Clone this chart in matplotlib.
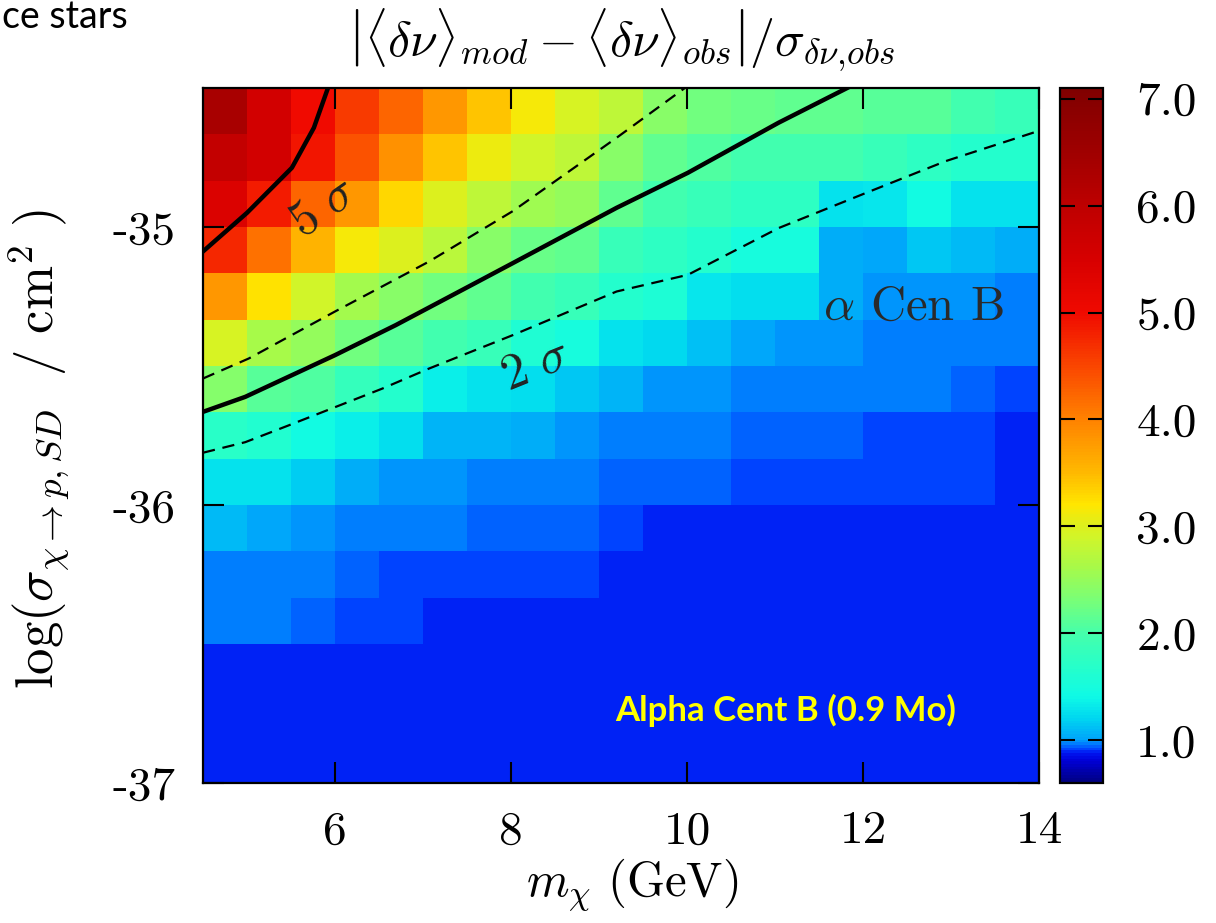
import numpy as np
import matplotlib
matplotlib.use("Agg")
import matplotlib.pyplot as plt
from matplotlib.colors import LinearSegmentedColormap, Normalize

plt.rcParams['font.family'] = 'serif'
plt.rcParams['font.serif'] = ['cmr10']
plt.rcParams['mathtext.fontset'] = 'cm'
plt.rcParams['axes.unicode_minus'] = False

# grid of the scan: WIMP mass (GeV) and log10 cross-section edges
mass_edges = [4.5, 5.0, 5.5, 6.0, 6.5, 7.0, 7.5, 8.0, 8.5, 9.0, 9.5,
              10.0, 10.5, 11.0, 11.5, 12.0, 12.5, 13.0, 13.5, 14.0]
logsig_edges = [-37.0, -36.5, -36.3333, -36.1667, -36.0, -35.8333, -35.6667,
                -35.5, -35.3333, -35.1667, -35.0, -34.8333, -34.6667, -34.5]

# |<dnu>_mod - <dnu>_obs| / sigma, rows listed from top (-34.5) to bottom (-37)
dev_rows = [
    [6.35, 5.6, 5.0, 4.6, 4.25, 3.8, 3.43, 3.15, 2.95, 2.77, 2.42, 2.27, 2.2, 2.15, 2.15, 2.1, 2.1, 1.97, 1.85],
    [5.9, 5.6, 4.9, 4.4, 3.85, 3.43, 3.1, 2.9, 2.77, 2.42, 2.15, 2.05, 1.95, 1.95, 1.95, 1.85, 1.75, 1.65, 1.65],
    [5.4, 4.85, 4.25, 3.8, 3.3, 3.0, 2.77, 2.58, 2.48, 2.15, 1.95, 1.85, 1.75, 1.75, 1.28, 1.3, 1.45, 1.28, 1.28],
    [4.75, 4.15, 3.55, 3.15, 3.0, 2.75, 2.42, 2.22, 2.17, 1.85, 1.75, 1.65, 1.5, 1.5, 1.04, 1.02, 1.14, 1.1, 1.04],
    [3.8, 3.22, 2.9, 2.6, 2.42, 2.27, 2.15, 1.95, 1.85, 1.65, 1.58, 1.3, 1.25, 1.25, 1.04, 1.0, 1.0, 1.0, 0.98],
    [2.95, 2.62, 2.48, 2.27, 2.1, 1.95, 1.85, 1.6, 1.5, 1.28, 1.21, 1.12, 1.02, 1.0, 0.985, 0.98, 0.98, 0.975, 0.96],
    [2.4, 2.12, 2.05, 1.82, 1.65, 1.34, 1.28, 1.25, 1.14, 1.08, 0.99, 0.985, 0.98, 0.975, 0.97, 0.97, 0.97, 0.945, 0.93],
    [1.7, 1.62, 1.45, 1.34, 1.25, 1.06, 1.06, 1.04, 1.0, 0.975, 0.975, 0.97, 0.95, 0.945, 0.94, 0.93, 0.925, 0.917, 0.89],
    [1.28, 1.28, 1.16, 1.04, 1.0, 0.985, 0.98, 0.98, 0.975, 0.95, 0.94, 0.933, 0.925, 0.917, 0.913, 0.91, 0.91, 0.91, 0.9],
    [1.1, 1.02, 0.99, 0.98, 0.975, 0.97, 0.955, 0.94, 0.937, 0.917, 0.9, 0.895, 0.888, 0.882, 0.885, 0.89, 0.89, 0.89, 0.888],
    [0.975, 0.975, 0.97, 0.955, 0.925, 0.92, 0.917, 0.913, 0.91, 0.9, 0.885, 0.882, 0.882, 0.882, 0.882, 0.882, 0.882, 0.882, 0.882],
    [0.97, 0.965, 0.933, 0.917, 0.905, 0.895, 0.888, 0.885, 0.885, 0.88, 0.88, 0.88, 0.88, 0.88, 0.88, 0.88, 0.88, 0.88, 0.88],
    [0.9, 0.89, 0.885, 0.882, 0.88, 0.88, 0.88, 0.88, 0.88, 0.88, 0.88, 0.88, 0.88, 0.88, 0.88, 0.88, 0.88, 0.88, 0.88],
]

# contour curves (mass, log sigma)
curve_5sig_x = [4.50, 5.00, 5.51, 5.76, 5.93]
curve_5sig_y = [-35.088, -34.949, -34.787, -34.643, -34.491]
curve_upper_dash_x = [4.50, 5.02, 6.00, 7.07, 8.02, 9.20, 10.01]
curve_upper_dash_y = [-35.545, -35.473, -35.304, -35.124, -34.943, -34.679, -34.492]
curve_mid_x = [4.50, 4.98, 6.00, 6.69, 7.52, 8.02, 9.20, 10.01, 11.04, 11.87]
curve_mid_y = [-35.665, -35.611, -35.461, -35.353, -35.214, -35.130, -34.931, -34.805, -34.625, -34.492]
curve_lower_dash_x = [4.50, 4.98, 5.47, 6.54, 7.07, 8.02, 9.20, 10.01, 11.04, 11.99, 12.94, 14.0]
curve_lower_dash_y = [-35.812, -35.774, -35.714, -35.581, -35.509, -35.389, -35.232, -35.172, -35.004, -34.883, -34.763, -34.654]

xticks = [6, 8, 10, 12, 14]
yticks = [-37, -36, -35]
cbar_ticks = [1, 2, 3, 4, 5, 6, 7]

# colour palette as in the colour bar (value, rgb)
vmin, vmax = 0.6, 7.1
pal = [(0.6, (0, 0, 130)), (0.8, (0, 0, 215)), (0.87, (0, 20, 240)), (0.9, (0, 60, 255)),
       (0.95, (0, 120, 255)), (1.0, (0, 165, 250)), (1.2, (0, 215, 240)), (1.4, (15, 250, 230)),
       (1.7, (40, 255, 200)), (2.0, (70, 255, 170)), (2.3, (120, 255, 120)), (2.6, (165, 250, 75)),
       (2.9, (210, 245, 40)), (3.0, (220, 240, 30)), (3.2, (255, 230, 0)), (3.5, (255, 185, 0)),
       (4.0, (255, 130, 0)), (4.5, (250, 70, 0)), (5.0, (240, 10, 0)), (5.5, (215, 0, 0)),
       (6.0, (190, 0, 0)), (6.5, (160, 0, 0)), (7.1, (128, 0, 0))]
cmap = LinearSegmentedColormap.from_list(
    'dnu', [((v - vmin) / (vmax - vmin), tuple(c / 255 for c in rgb)) for v, rgb in pal])

Z = np.flipud(np.array(dev_rows))

fig = plt.figure(figsize=(12.16, 9.23), dpi=100)
ax = fig.add_axes([203 / 1216, 1 - 783 / 923, 836 / 1216, 695 / 923])
cax = fig.add_axes([1060 / 1216, 1 - 783 / 923, 43 / 1216, 695 / 923])

mesh = ax.pcolormesh(mass_edges, logsig_edges, Z, cmap=cmap,
                     norm=Normalize(vmin=vmin, vmax=vmax), shading='flat')

ax.plot(curve_5sig_x, curve_5sig_y, color='black', lw=3.2)
ax.plot(curve_mid_x, curve_mid_y, color='black', lw=3.2)
ax.plot(curve_upper_dash_x, curve_upper_dash_y, color='black', lw=1.6, dashes=(5.5, 3.5))
ax.plot(curve_lower_dash_x, curve_lower_dash_y, color='black', lw=1.6, dashes=(5.5, 3.5))

ax.text(5.87, -34.93, r'$5\ \sigma$', fontsize=36, rotation=35, ha='center', va='center', color='#222222')
ax.text(8.28, -35.50, r'$2\ \sigma$', fontsize=36, rotation=22, ha='center', va='center', color='#222222')
ax.text(12.57, -35.29, r'$\alpha$ Cen B', fontsize=35, ha='center', va='center', color='#2a2a2a')
ax.text(11.12, -36.74, 'Alpha Cent B (0.9 Mo)', fontsize=25, fontweight='bold',
        family=['Lato', 'DejaVu Sans'], color='#ffff00', ha='center', va='center')

ax.set_xlim(4.5, 14.0)
ax.set_ylim(-37.0, -34.5)
ax.set_xticks(xticks)
ax.set_xticklabels([str(t) for t in xticks])
ax.set_yticks(yticks)
ax.set_yticklabels([str(t) for t in yticks])
ax.tick_params(direction='in', top=True, right=True, length=15, width=1.5,
               labelsize=34, pad=20)
for s in ax.spines.values():
    s.set_linewidth(1.6)

ax.set_xlabel(r'$m_\chi\ (\mathrm{GeV})$', fontsize=35)
ax.xaxis.set_label_coords(0.513, -0.105)
ax.set_ylabel(r'$\log(\sigma_{\chi\rightarrow p,SD}\ \ /\ \mathrm{cm}^2\ )$', fontsize=38)
ax.yaxis.set_label_coords(-0.158, 0.48)

cb = fig.colorbar(mesh, cax=cax)
cb.set_ticks(cbar_ticks)
cb.set_ticklabels(['%.1f' % t for t in cbar_ticks])
cb.ax.tick_params(direction='in', left=True, right=True, length=10.8, width=1.5,
                  labelsize=34, pad=24)
cb.outline.set_linewidth(1.6)

fig.text(622 / 1216, 1 - 40 / 923,
         r'$\left|\langle\delta\nu\rangle_{mod}-\langle\delta\nu\rangle_{obs}\right|/\sigma_{\delta\nu,\!obs}$',
         fontsize=36, ha='center', va='center')
fig.text(0.002, 1 - 28 / 923, 'ce stars', fontsize=27, family=['Lato', 'DejaVu Sans'],
         ha='left', va='baseline')

fig.savefig('out.png', dpi=100)
